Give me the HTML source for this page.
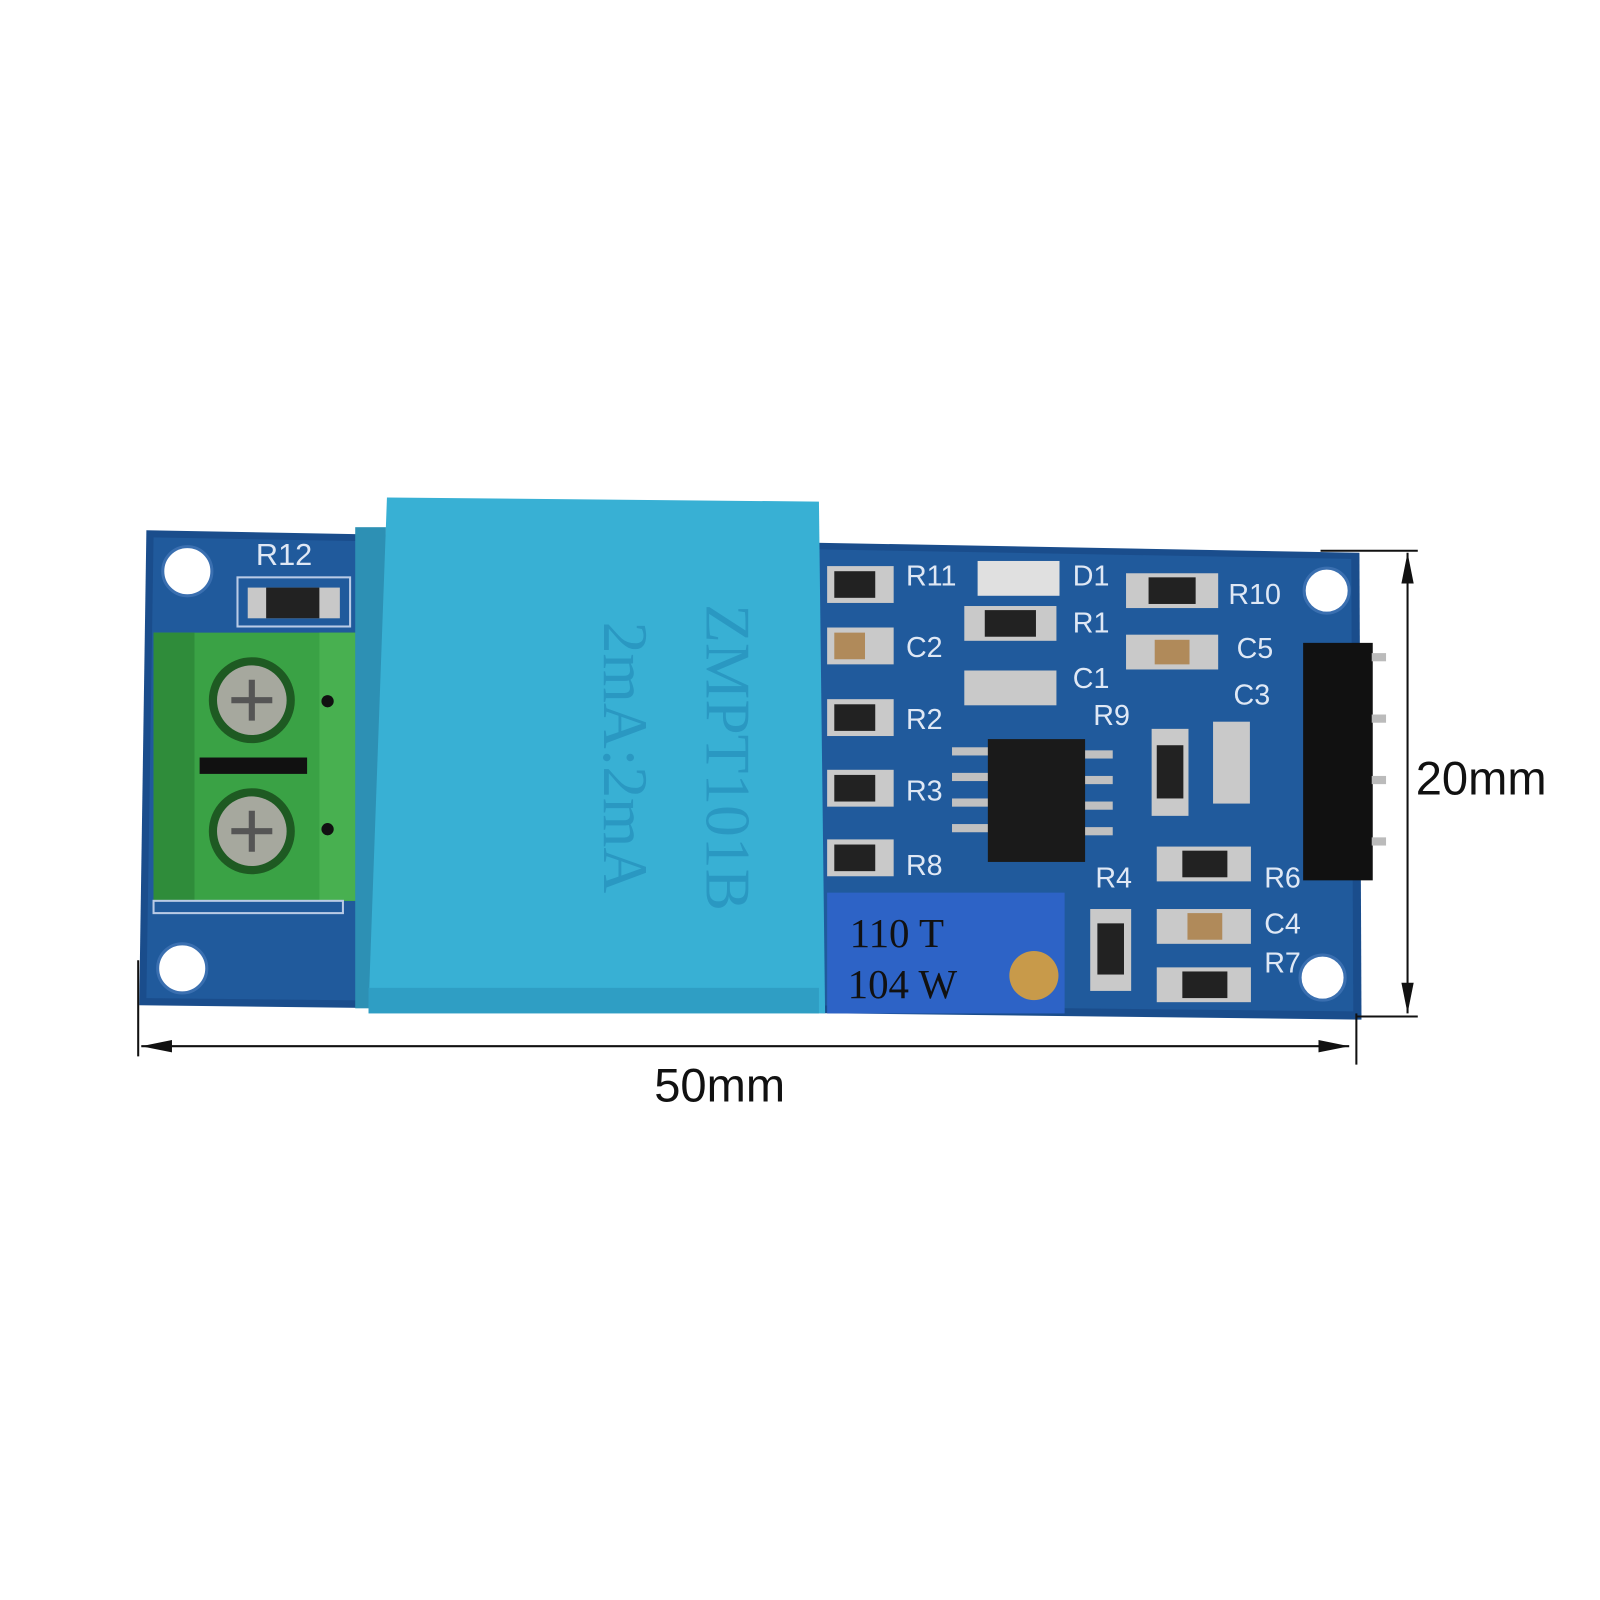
<!DOCTYPE html>
<html><head><meta charset="utf-8"><style>
body{margin:0;background:#fff;}
svg{display:block}
</style></head><body>
<svg width="1600" height="1600" viewBox="0 0 1563 1563" xmlns="http://www.w3.org/2000/svg" font-family="Liberation Sans, sans-serif">
<rect width="1600" height="1600" fill="#fff"/>
<!-- PCB -->
<polygon points="143,518 1328,540 1330,996 136,982" fill="#1a4d8c"/>
<polygon points="150,525 1320,546 1322,988 143,975" fill="#205a9c"/>
<circle cx="183" cy="558" r="24" fill="#fff" stroke="#3a6fb0" stroke-width="3"/>
<circle cx="178" cy="946" r="24" fill="#fff" stroke="#3a6fb0" stroke-width="3"/>
<circle cx="1296" cy="577" r="22" fill="#fff" stroke="#3a6fb0" stroke-width="3"/>
<circle cx="1292" cy="955" r="22" fill="#fff" stroke="#3a6fb0" stroke-width="3"/>
<text x="250" y="552" font-size="30" fill="#dfe8f5">R12</text>
<rect x="232" y="564" width="110" height="48" fill="none" stroke="#b9cbe6" stroke-width="2"/>
<rect x="242" y="574" width="90" height="30" fill="#c8c8c8"/>
<rect x="260" y="574" width="52" height="30" fill="#222"/>
<rect x="150" y="618" width="200" height="262" fill="#3aa245"/>
<rect x="150" y="618" width="40" height="262" fill="#2f8c3a"/>
<rect x="312" y="618" width="38" height="262" fill="#48b050"/>
<rect x="195" y="740" width="105" height="16" fill="#111"/>
<circle cx="320" cy="685" r="6" fill="#111"/><circle cx="320" cy="810" r="6" fill="#111"/>
<circle cx="246" cy="684" r="42" fill="#1e5a22"/><circle cx="246" cy="684" r="34" fill="#a6a89e"/>
<circle cx="246" cy="812" r="42" fill="#1e5a22"/><circle cx="246" cy="812" r="34" fill="#a6a89e"/>
<path d="M226 684h40M246 664v40M226 812h40M246 792v40" stroke="#555" stroke-width="6"/>
<rect x="150" y="880" width="185" height="12" fill="none" stroke="#b9cbe6" stroke-width="2"/>
<rect x="347" y="515" width="30" height="470" fill="#2d90b4"/>
<polygon points="378,486 800,490 806,990 360,985" fill="#38b0d4"/>
<rect x="360" y="965" width="440" height="25" fill="#2f9ec4"/>
<g transform="translate(690,740) rotate(90)" fill="#2a98c2" font-family="Liberation Serif, serif" font-size="62" text-anchor="middle">
<text x="0" y="0">ZMPT101B</text>
<text x="0" y="100">2mA:2mA</text>
</g>
<g fill="#c9c9c9">
<rect x="808" y="553" width="65" height="36"/><rect x="808" y="613" width="65" height="36"/>
<rect x="808" y="683" width="65" height="36"/><rect x="808" y="752" width="65" height="36"/>
<rect x="808" y="820" width="65" height="36"/>
<rect x="942" y="592" width="90" height="34"/><rect x="942" y="655" width="90" height="34"/>
<rect x="1100" y="560" width="90" height="34"/><rect x="1100" y="620" width="90" height="34"/>
<rect x="1125" y="712" width="36" height="85"/><rect x="1185" y="705" width="36" height="80"/>
<rect x="1130" y="827" width="92" height="34"/><rect x="1130" y="888" width="92" height="34"/>
<rect x="1130" y="945" width="92" height="34"/><rect x="1065" y="888" width="40" height="80"/>
<rect x="955" y="548" width="80" height="34" fill="#e0e0e0"/>
</g>
<g fill="#222">
<rect x="815" y="558" width="40" height="26"/><rect x="815" y="688" width="40" height="26"/>
<rect x="815" y="757" width="40" height="26"/><rect x="815" y="825" width="40" height="26"/>
<rect x="962" y="596" width="50" height="26"/><rect x="1122" y="564" width="46" height="26"/>
<rect x="1130" y="728" width="26" height="52"/><rect x="1155" y="831" width="44" height="26"/>
<rect x="1155" y="949" width="44" height="26"/><rect x="1072" y="902" width="26" height="50"/>
</g>
<g fill="#b08a5a"><rect x="815" y="618" width="30" height="26"/><rect x="1128" y="625" width="34" height="24"/><rect x="1160" y="892" width="34" height="26"/></g>
<g font-size="28" fill="#dfe8f5">
<text x="885" y="572">R11</text><text x="1048" y="572">D1</text><text x="1200" y="590">R10</text>
<text x="885" y="642">C2</text><text x="1048" y="618">R1</text><text x="1208" y="643">C5</text>
<text x="1048" y="672">C1</text><text x="1068" y="708">R9</text><text x="1205" y="688">C3</text>
<text x="885" y="712">R2</text><text x="885" y="782">R3</text><text x="885" y="855">R8</text>
<text x="1070" y="867">R4</text><text x="1235" y="867">R6</text><text x="1235" y="912">C4</text><text x="1235" y="950">R7</text>
</g>
<g fill="#c0c0c0">
<rect x="930" y="730" width="40" height="8"/><rect x="930" y="755" width="40" height="8"/><rect x="930" y="780" width="40" height="8"/><rect x="930" y="805" width="40" height="8"/>
<rect x="1055" y="733" width="32" height="8"/><rect x="1055" y="758" width="32" height="8"/><rect x="1055" y="783" width="32" height="8"/><rect x="1055" y="808" width="32" height="8"/>
</g>
<rect x="965" y="722" width="95" height="120" fill="#1a1a1a"/>
<rect x="1273" y="628" width="68" height="232" fill="#111"/>
<g fill="#bbb"><rect x="1340" y="638" width="14" height="8"/><rect x="1340" y="698" width="14" height="8"/><rect x="1340" y="758" width="14" height="8"/><rect x="1340" y="818" width="14" height="8"/></g>
<rect x="808" y="872" width="232" height="118" fill="#2d63c6"/>
<text x="830" y="925" font-size="40" fill="#111" font-family="Liberation Serif, serif">110 T</text>
<text x="828" y="975" font-size="40" fill="#111" font-family="Liberation Serif, serif">104 W</text>
<circle cx="1010" cy="953" r="24" fill="#c89a4a"/>
<g stroke="#111" stroke-width="2" fill="none">
<line x1="135" y1="938" x2="135" y2="1032"/>
<line x1="1325" y1="990" x2="1325" y2="1040"/>
<line x1="138" y1="1022" x2="1318" y2="1022"/>
<line x1="1290" y1="538" x2="1385" y2="538"/>
<line x1="1325" y1="993" x2="1385" y2="993"/>
<line x1="1375" y1="540" x2="1375" y2="990"/>
</g>
<polygon points="138,1022 168,1016 168,1028" fill="#111"/>
<polygon points="1318,1022 1288,1016 1288,1028" fill="#111"/>
<polygon points="1375,540 1369,570 1381,570" fill="#111"/>
<polygon points="1375,990 1369,960 1381,960" fill="#111"/>
<text x="703" y="1076" font-size="46" text-anchor="middle" fill="#111">50mm</text>
<text x="1383" y="776" font-size="46" fill="#111">20mm</text>
</svg>
</body></html>
